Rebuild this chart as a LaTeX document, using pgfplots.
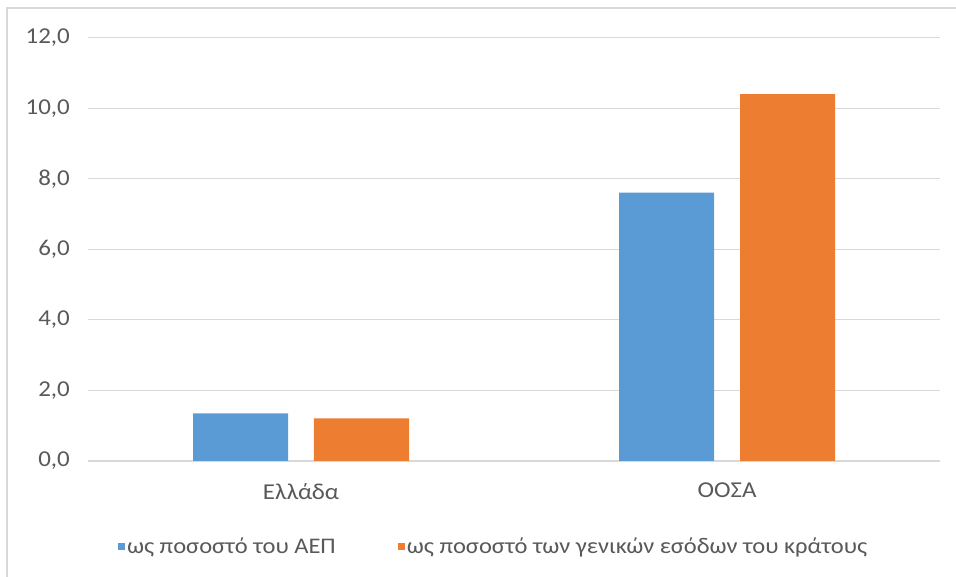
\documentclass[border=0pt]{standalone}
\usepackage{fontspec}
\setmainfont{Carlito}[FakeStretch=1.1]
\usepackage{pgfplots}
\pgfplotsset{compat=1.18}
\definecolor{cblue}{HTML}{5B9BD5}
\definecolor{corange}{HTML}{ED7D31}
\definecolor{gridc}{HTML}{D9D9D9}
\definecolor{txt}{HTML}{595959}
\begin{document}
\fontsize{22.7bp}{26bp}\selectfont
\begin{tikzpicture}[x=1bp,y=1bp]
\path[use as bounding box] (0,0) rectangle (956,577);
\draw[gridc, line width=1.5bp] (7,0) -- (7,569) -- (956,569);
\begin{axis}[
  at={(88bp,116bp)}, anchor=south west, scale only axis,
  width=852bp, height=423bp,
  xmin=-0.5, xmax=1.5, ymin=0, ymax=12,
  ytick={0,2,...,12},
  xtick={0,1}, xticklabels={Ελλάδα,ΟΟΣΑ},
  ymajorgrids, grid style={gridc, line width=1bp},
  axis x line*=bottom, axis y line*=left,
  x axis line style={gridc, line width=1.2bp, -},
  y axis line style={draw=none},
  major tick length=0pt,
  ticklabel style={font=\fontsize{22.7bp}{26bp}\selectfont, text=txt},
  yticklabel style={anchor=east, inner sep=0pt, xshift=-18bp},
  xticklabel style={anchor=north, inner sep=0pt, yshift=-22bp},
  /pgf/number format/.cd, fixed, fixed zerofill, precision=1, use comma, assume math mode=true,
  /pgfplots/.cd,
  ybar, bar width=0.223,
  legend columns=2,
  legend style={draw=none, at={(0.035,-0.203)}, anchor=west, inner sep=0pt,
    font=\fontsize{22.3bp}{26bp}\selectfont, text=txt,
    nodes={inner sep=2bp},
    /tikz/every even column/.append style={column sep=60bp}},
  legend image code/.code={\fill[#1] (0bp,-3.5bp) rectangle (7bp,3.5bp);},
]
\addplot[fill=cblue, draw=none, bar shift=-0.142] coordinates {(0,1.35) (1,7.61)};
\addplot[fill=corange, draw=none, bar shift=0.142] coordinates {(0,1.21) (1,10.41)};
\legend{ως ποσοστό του ΑΕΠ, ως ποσοστό των γενικών εσόδων του κράτους}
\end{axis}
\end{tikzpicture}
\end{document}
